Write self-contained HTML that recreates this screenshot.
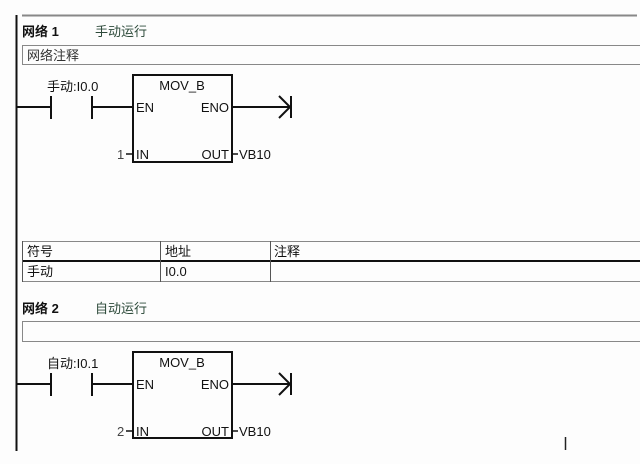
<!DOCTYPE html>
<html><head><meta charset="utf-8"><style>
html,body{margin:0;padding:0;background:#fdfdfd;}
svg{display:block;}
text{font-family:"Liberation Sans","Noto Sans CJK SC",sans-serif;font-size:13px;fill:#111;}
.cn{font-family:"Liberation Sans","Noto Sans CJK SC",sans-serif;}
</style></head><body>
<svg width="640" height="464" viewBox="0 0 640 464" xmlns="http://www.w3.org/2000/svg">
<rect width="640" height="464" fill="#fdfdfd"/>
<line x1="16.5" y1="15" x2="16.5" y2="451" stroke="#111" stroke-width="2"/>
<line x1="22" y1="15.5" x2="637" y2="15.5" stroke="#888" stroke-width="2"/>
<!-- Network 1 -->
<text x="22" y="36" font-weight="bold" class="cn" style="font-size:13px">网络 1</text>
<text x="95" y="36" style="fill:#2d4a3a;font-size:13px">手动运行</text>
<rect x="22.5" y="45.5" width="620" height="19" fill="none" stroke="#888" stroke-width="1"/>
<text x="27" y="60" style="fill:#333;font-size:13px">网络注释</text>
<text x="47" y="91">手动:I0.0</text>
<line x1="17" y1="107" x2="50" y2="107" stroke="#111" stroke-width="2"/>
<line x1="51" y1="96" x2="51" y2="119" stroke="#111" stroke-width="2"/>
<line x1="92" y1="96" x2="92" y2="119" stroke="#111" stroke-width="2"/>
<line x1="92" y1="107" x2="133" y2="107" stroke="#111" stroke-width="2"/>
<rect x="133" y="75" width="99" height="87" fill="none" stroke="#111" stroke-width="2"/>
<text x="182" y="90" text-anchor="middle">MOV_B</text>
<text x="136" y="112">EN</text>
<text x="229" y="112" text-anchor="end">ENO</text>
<line x1="232" y1="107" x2="290" y2="107" stroke="#111" stroke-width="2"/>
<polyline points="279,96 290,107 279,118" fill="none" stroke="#111" stroke-width="2"/>
<line x1="291" y1="96" x2="291" y2="118" stroke="#111" stroke-width="2"/>
<text x="117" y="159" style="fill:#444">1</text>
<line x1="126" y1="154" x2="133" y2="154" stroke="#111" stroke-width="1.5"/>
<text x="136" y="159">IN</text>
<text x="229" y="159" text-anchor="end">OUT</text>
<line x1="232" y1="154" x2="238" y2="154" stroke="#111" stroke-width="1.5"/>
<text x="239" y="159">VB10</text>
<!-- table -->
<line x1="22" y1="241.5" x2="640" y2="241.5" stroke="#888"/>
<line x1="22" y1="261" x2="640" y2="261" stroke="#111" stroke-width="2"/>
<line x1="22" y1="281.5" x2="640" y2="281.5" stroke="#888"/>
<line x1="22.5" y1="241" x2="22.5" y2="282" stroke="#555"/>
<line x1="160.5" y1="241" x2="160.5" y2="282" stroke="#555"/>
<line x1="270.5" y1="241" x2="270.5" y2="282" stroke="#555"/>
<text x="27" y="256">符号</text>
<text x="165" y="256">地址</text>
<text x="274" y="256">注释</text>
<text x="27" y="276">手动</text>
<text x="165" y="276">I0.0</text>
<!-- Network 2 -->
<text x="22" y="313" font-weight="bold">网络 2</text>
<text x="95" y="313" style="fill:#2d4a3a">自动运行</text>
<rect x="22.5" y="321.5" width="620" height="20" fill="none" stroke="#888" stroke-width="1"/>
<text x="47" y="368">自动:I0.1</text>
<line x1="17" y1="384" x2="50" y2="384" stroke="#111" stroke-width="2"/>
<line x1="51" y1="373" x2="51" y2="396" stroke="#111" stroke-width="2"/>
<line x1="92" y1="373" x2="92" y2="396" stroke="#111" stroke-width="2"/>
<line x1="92" y1="384" x2="133" y2="384" stroke="#111" stroke-width="2"/>
<rect x="133" y="352" width="99" height="86" fill="none" stroke="#111" stroke-width="2"/>
<text x="182" y="367" text-anchor="middle">MOV_B</text>
<text x="136" y="389">EN</text>
<text x="229" y="389" text-anchor="end">ENO</text>
<line x1="232" y1="384" x2="290" y2="384" stroke="#111" stroke-width="2"/>
<polyline points="279,373 290,384 279,395" fill="none" stroke="#111" stroke-width="2"/>
<line x1="291" y1="373" x2="291" y2="395" stroke="#111" stroke-width="2"/>
<text x="117" y="436" style="fill:#444">2</text>
<line x1="126" y1="431" x2="133" y2="431" stroke="#111" stroke-width="1.5"/>
<text x="136" y="436">IN</text>
<text x="229" y="436" text-anchor="end">OUT</text>
<line x1="232" y1="431" x2="238" y2="431" stroke="#111" stroke-width="1.5"/>
<text x="239" y="436">VB10</text>
<line x1="565.5" y1="437" x2="565.5" y2="450" stroke="#222" stroke-width="1.5"/>
</svg>
</body></html>
